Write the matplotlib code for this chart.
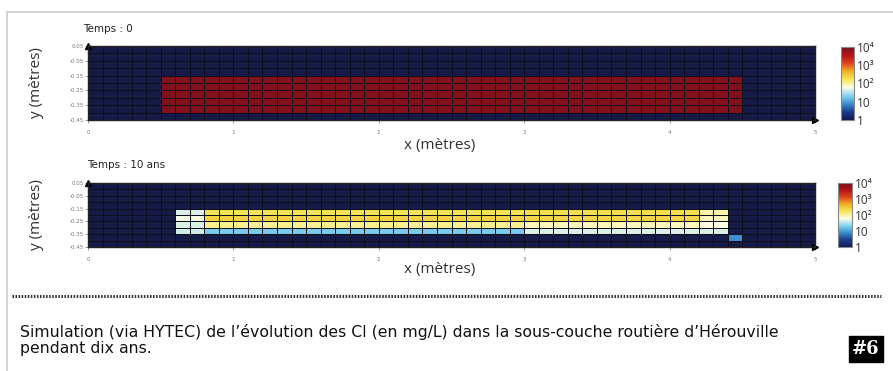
import numpy as np
import matplotlib
matplotlib.use("Agg")
from matplotlib import pyplot as plt
from matplotlib.colors import LinearSegmentedColormap, LogNorm
from matplotlib.lines import Line2D

# mesh of the road sub-layer (metres)
x_edges = np.round(np.arange(0, 5.001, 0.1), 2)
y_edges = np.round(np.arange(-0.45, 0.0501, 0.05), 2)

x_ticks = [0, 1, 2, 3, 4, 5]
y_ticks = [0.05, -0.05, -0.15, -0.25, -0.35, -0.45]
y_tick_labels = ["0.05", "-0.05", "-0.15", "-0.25", "-0.35", "-0.45"]

cbar_ticks = [1, 10, 100, 1000, 10000]
cbar_labels = ["1", "10", "10\u00b2", "10\u00b3", "10\u2074"]

# initial Cl source (mg/L)
src_x = (0.5, 4.5)
src_y = (-0.40, -0.15)
c_init = 8000

# after 10 years: plume split in x segments, 4 rows from y=-0.15 down to -0.35
plume_seg_x = [0.6, 0.8, 3.0, 4.2, 4.4]
plume_row_top = [-0.15, -0.20, -0.25, -0.30]
plume_seg_conc = [
    [45, 55, 45, 40],
    [180, 250, 110, 18],
    [200, 240, 80, 45],
    [90, 80, 60, 45],
]
leak_cell = (4.4, -0.40)  # lower-left corner
leak_conc = 8

c_background = 0.5

title_top = "Temps : 0"
title_bottom = "Temps : 10 ans"
caption = ("Simulation (via HYTEC) de l\u2019évolution des Cl (en mg/L) dans la sous-couche routière d\u2019Hérouville\n"
           "pendant dix ans.")


def build_initial():
    nx, ny = len(x_edges) - 1, len(y_edges) - 1
    c = np.full((ny, nx), c_background)
    xc = (x_edges[:-1] + x_edges[1:]) / 2
    yc = (y_edges[:-1] + y_edges[1:]) / 2
    for j in range(ny):
        for i in range(nx):
            if src_x[0] < xc[i] < src_x[1] and src_y[0] < yc[j] < src_y[1]:
                c[j, i] = c_init
    return c


def build_10ans():
    nx, ny = len(x_edges) - 1, len(y_edges) - 1
    c = np.full((ny, nx), c_background)
    xc = (x_edges[:-1] + x_edges[1:]) / 2
    yc = (y_edges[:-1] + y_edges[1:]) / 2
    for s in range(len(plume_seg_x) - 1):
        for r, top in enumerate(plume_row_top):
            for j in range(ny):
                for i in range(nx):
                    if plume_seg_x[s] < xc[i] < plume_seg_x[s + 1] and top - 0.05 < yc[j] < top:
                        c[j, i] = plume_seg_conc[s][r]
    for j in range(ny):
        for i in range(nx):
            if leak_cell[0] < xc[i] < leak_cell[0] + 0.1 and leak_cell[1] < yc[j] < leak_cell[1] + 0.05:
                c[j, i] = leak_conc
    return c


cmap = LinearSegmentedColormap.from_list(
    "hytec",
    ["#0d1a55", "#1c3c8c", "#3b8fd0", "#86d6ef", "#fffbe2",
     "#f4e85a", "#f2b024", "#e0461e", "#b31418", "#76101c"])
cmap.set_under("#161a46")
norm = LogNorm(vmin=1, vmax=10000)

W, H = 893, 371
fig = plt.figure(figsize=(W / 100, H / 100), dpi=100)
fig.patch.set_facecolor("white")


def px(x0, y0, x1, y1):
    return [x0 / W, 1 - y1 / H, (x1 - x0) / W, (y1 - y0) / H]


def draw_panel(rect, cbar_rect, data, title, title_xy, ylab_y, xlab_y):
    ax = fig.add_axes(px(*rect))
    ax.pcolormesh(x_edges, y_edges, data, cmap=cmap, norm=norm,
                  edgecolors="#0d0d1e", linewidth=0.5)
    ax.set_xlim(0, 5)
    ax.set_ylim(-0.45, 0.05)
    ax.set_xticks(x_ticks)
    ax.set_xticklabels([str(t) for t in x_ticks])
    ax.set_yticks(y_ticks)
    ax.set_yticklabels(y_tick_labels)
    ax.tick_params(labelsize=4, colors="#777777", length=2, width=0.5, pad=5)
    ax.tick_params(axis="y", pad=1)
    for sp in ax.spines.values():
        sp.set_color("#222222")
        sp.set_linewidth(1.0)
    ax.plot([0], [0.05], marker="^", color="black", ms=5, clip_on=False)
    ax.plot([5], [-0.45], marker=">", color="black", ms=5, clip_on=False)

    fig.text(title_xy[0] / W, 1 - title_xy[1] / H, title, fontsize=7.5,
             color="#222222", va="center", ha="left")
    fig.text(36 / W, 1 - ylab_y / H, "y (mètres)", fontsize=11, rotation=90,
             family="Open Sans", color="#333333", va="center", ha="center")
    fig.text(440 / W, 1 - xlab_y / H, "x (mètres)", fontsize=11,
             family="Open Sans", color="#333333", va="center", ha="center")

    cax = fig.add_axes(px(*cbar_rect))
    cb = fig.colorbar(ax.collections[0], cax=cax, ticks=cbar_ticks)
    cb.set_ticklabels(cbar_labels)
    cb.outline.set_edgecolor("#888888")
    cb.outline.set_linewidth(0.8)
    cax.tick_params(labelsize=8.5, length=0, pad=2, colors="#333333")
    for t in cax.get_yticklabels():
        t.set_family(["Open Sans", "DejaVu Sans"])
    return ax


draw_panel((88, 46, 815, 120), (841, 47, 854, 120), build_initial(),
           title_top, (83, 29), 83, 145)
draw_panel((88, 183, 815, 247), (838, 183, 852, 247), build_10ans(),
           title_bottom, (87, 165), 215, 270)

# frame lines of the page box
fig.add_artist(Line2D([7 / W, 7 / W], [0, 1 - 12 / H], transform=fig.transFigure,
                      color="#cccccc", lw=1.2))
fig.add_artist(Line2D([7 / W, 1], [1 - 12 / H, 1 - 12 / H], transform=fig.transFigure,
                      color="#cccccc", lw=1.2))
# dotted separator
fig.add_artist(Line2D([12 / W, 881 / W], [1 - 296 / H, 1 - 296 / H], transform=fig.transFigure,
                      color="#333333", lw=2.2, linestyle=(0, (0.5, 0.5))))

fig.text(20 / W, 1 - 340 / H, caption, fontsize=11.3, color="#111111",
         va="center", ha="left", linespacing=1.1)
fig.text(866 / W, 1 - 349 / H, "#6", fontsize=13, fontweight="bold", family="DejaVu Serif",
         color="white", va="center", ha="center",
         bbox=dict(boxstyle="square,pad=0.2", fc="black", ec="black"))

fig.savefig("out.png", dpi=100)
